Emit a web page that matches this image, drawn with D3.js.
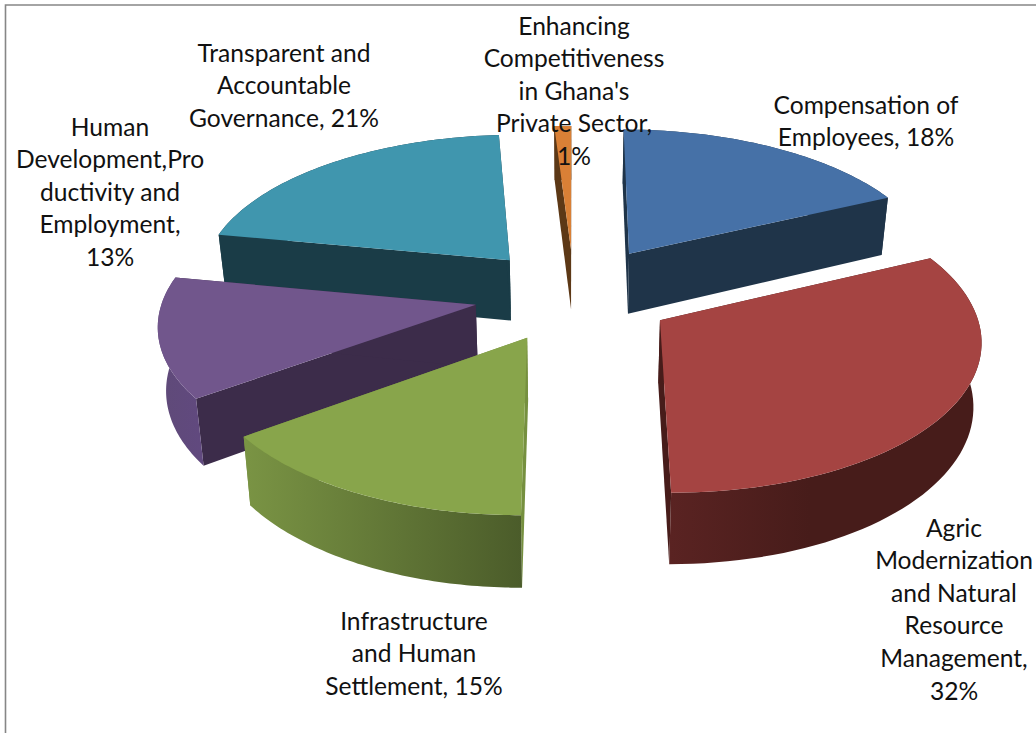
<!DOCTYPE html>
<html>
<head>
<meta charset="utf-8">
<script src="https://cdn.jsdelivr.net/npm/d3@7/dist/d3.min.js"></script>
<style>
  html, body { margin: 0; padding: 0; background: #fff; }
  svg { display: block; }
  text { font-family: Lato, "Open Sans", sans-serif; fill: #111; }
</style>
</head>
<body>
<svg id="chart" width="1036" height="733"></svg>
<script>
// Budget shares by thematic area, clockwise from twelve o'clock
const categories = [
  "Compensation of Employees",
  "Agric Modernization and Natural Resource Management",
  "Infrastructure and Human Settlement",
  "Human Development,Productivity and Employment",
  "Transparent and Accountable Governance",
  "Enhancing Competitiveness in Ghana's Private Sector"
];
const shares = [18, 32, 15, 13, 21, 1];

// Wrapped label text; {v} is replaced by the share
const labelLines = [
  ["Compensation of", "Employees, {v}%"],
  ["Agric", "Modernization", "and Natural", "Resource", "Management,", "{v}%"],
  ["Infrastructure", "and Human", "Settlement, {v}%"],
  ["Human", "Development,Pro", "ductivity and", "Employment,", "{v}%"],
  ["Transparent and", "Accountable", "Governance, {v}%"],
  ["Enhancing", "Competitiveness", "in Ghana's", "Private Sector,", "{v}%"]
];

const topColors   = ["#4671a7", "#a54442", "#88a54b", "#71568c", "#4096ae", "#d98036"];
const startWalls  = ["#1f3449", "#471c1a", "#76903f", "#3c2c4a", "#1a3c47", "#5c3816"];
const endWalls    = ["#1f3449", "#471c1a", "#76903f", "#3c2c4a", "#1a3c47", "#5c3816"];
const rimLeft     = ["#1f3449", "#5a2322", "#7a9444", "#5f4a78", "#1a3c47", "#5c3816"];
const rimRight    = ["#1f3449", "#471c1a", "#4b5c2a", "#61497f", "#1a3c47", "#5c3816"];

const labelCenterX = [866, 954, 414, 110, 284, 574];
const labelFirstY  = [105, 528, 621, 127, 53, 26];
const lineStep = 32.6;
const labelSize = 24.6;

// How far each slice is pulled out of the pie, in radii
const explodeBy = [0.34, 0.32, 0.32, 0.32, 0.32, 0.32];

// Perspective ground plane: v grows toward the viewer
const persp = 0.113, depth = 62, baseShrink = 0.98;
const cx = 574, cy = 294.5, rx = 312, ry = 146.8;
const xScale = d3.scaleLinear().domain([-1, 1]).range([cx - rx, cx + rx]);
const yScale = d3.scaleLinear().domain([-1, 1]).range([cy - ry, cy + ry]);

function project(u, v, lowered) {
  const s = 1 / (1 - persp * v);
  const x = xScale(u * s), y = yScale(v * s);
  if (!lowered) return [x, y];
  return [cx + (x - cx) * baseShrink, y + depth * s];
}

const svg = d3.select("#chart");
const line = d3.line();
const defs = svg.append("defs");

// Frame around the chart area: top and left edges only
svg.append("path").attr("d", "M5.5,733V5H1036").attr("fill", "none")
  .attr("stroke", "#868686").attr("stroke-width", 1.6);

const slices = d3.pie().sort(null).startAngle(0).endAngle(2 * Math.PI)(shares)
  .map(d => {
    const mid = (d.startAngle + d.endAngle) / 2;
    return {
      ...d,
      i: d.index,
      mid,
      ou: explodeBy[d.index] * Math.sin(mid),
      ov: -explodeBy[d.index] * Math.cos(mid)
    };
  })
  .sort((a, b) => a.ov - b.ov);

const chart = svg.append("g");

slices.forEach(sl => {
  const g = chart.append("g").attr("class", "slice");
  const apexAt = low => project(sl.ou, sl.ov, low);
  const rimAt = (a, low) => project(sl.ou + Math.sin(a), sl.ov - Math.cos(a), low);
  const steps = d3.range(0, 61).map(k => sl.startAngle + (sl.endAngle - sl.startAngle) * k / 60);

  // Radial cut faces
  [[sl.startAngle, startWalls[sl.i]], [sl.endAngle, endWalls[sl.i]]].forEach(([a, color]) => {
    const pts = [apexAt(false), rimAt(a, false), rimAt(a, true), apexAt(true)];
    g.append("path").attr("d", line(pts) + "Z").attr("fill", color);
  });

  // Outer rim
  const rimPts = steps.map(a => rimAt(a, false)).concat(steps.slice().reverse().map(a => rimAt(a, true)));
  const ext = d3.extent(rimPts, p => p[0]);
  const gradId = "rim" + sl.i;
  const grad = defs.append("linearGradient").attr("id", gradId)
    .attr("gradientUnits", "userSpaceOnUse")
    .attr("x1", ext[0]).attr("x2", ext[1]).attr("y1", 0).attr("y2", 0);
  grad.append("stop").attr("offset", 0).attr("stop-color", rimLeft[sl.i]);
  grad.append("stop").attr("offset", sl.i === 1 ? 0.45 : 1).attr("stop-color", rimRight[sl.i]);
  g.append("path").attr("d", line(rimPts) + "Z").attr("fill", `url(#${gradId})`);

  // Top face
  const topPts = [apexAt(false)].concat(steps.map(a => rimAt(a, false)));
  g.append("path").attr("d", line(topPts) + "Z").attr("fill", topColors[sl.i]);
});

// Data labels
categories.forEach((name, i) => {
  const t = svg.append("text").attr("text-anchor", "middle")
    .attr("font-size", labelSize).attr("aria-label", `${name}, ${shares[i]}%`);
  labelLines[i].forEach((ln, k) => {
    t.append("tspan").attr("x", labelCenterX[i])
      .attr("y", labelFirstY[i] + k * lineStep)
      .attr("dy", "0.35em")
      .text(ln.replace("{v}", shares[i]));
  });
});
</script>
</body>
</html>
